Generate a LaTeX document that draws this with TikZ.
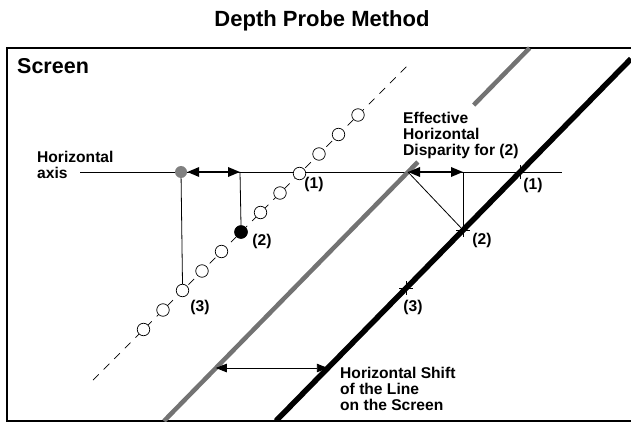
\documentclass[tikz,border=0pt]{standalone}
\usepackage{fontspec}
\setmainfont{Liberation Sans}
\usetikzlibrary{arrows.meta}
\begin{document}
\begin{tikzpicture}[x=1pt,y=-1pt,
  lbl/.style={font=\fontsize{15.6}{16}\selectfont\bfseries, inner sep=0pt, align=left},
  thinl/.style={line width=0.8pt},
  dbl/.style={line width=1.8pt, {Triangle[length=12pt,width=9.5pt]}-{Triangle[length=12pt,width=9.5pt]}},
  dblthin/.style={line width=0.9pt, {Triangle[length=11pt,width=8.5pt]}-{Triangle[length=11pt,width=8.5pt]}},
  probe/.style={circle, draw, line width=0.7pt, fill=white, minimum size=12.5pt, inner sep=0pt},
  tick/.style={line width=0.8pt},
  grayline/.style={line width=4.5pt, draw=black!55},
  blackline/.style={line width=5.5pt}
]
\useasboundingbox (0,0) rectangle (631,422);

% title and frame
\node[font=\fontsize{22}{26}\selectfont\bfseries, anchor=base] (title) at (322,26.5) {Depth Probe Method};
\draw[line width=1.5pt] (631,48) -- (7,48) -- (7,421) -- (631,421);
\node[font=\fontsize{21.5}{24}\selectfont\bfseries, anchor=base west, inner sep=0pt] (screen) at (17,73.5) {Screen};

% key coordinates
\coordinate (axL) at (80,172);
\coordinate (axR) at (562,172);
\coordinate (a2) at (240,172);
\coordinate (gX) at (408,172);
\coordinate (gB) at (164,421);
\coordinate (gA) at (417.8,162);
\coordinate (gC) at (473.7,105);
\coordinate (gD) at (529.6,48);
\coordinate (bB) at (275.9,421);
\coordinate (bT) at (631,58.8);
\coordinate (b1) at (520,172);
\coordinate (b2) at (463,230);
\coordinate (b3) at (406.3,288);
\coordinate (e2) at (463,172);
\coordinate (hsL) at (215.8,368);
\coordinate (hsR) at (327.8,368);
\coordinate (dA) at (93,380);
\coordinate (dB) at (410,63);

% horizontal axis
\draw[thinl] (axL) -- (axR);
\node[lbl, anchor=north west] (haxis) at (37,150.5) {Horizontal\\axis};

% gray line (interrupted by text)
\draw[grayline] (gB) -- (gA);
\draw[grayline] (gC) -- (gD);

% black line
\draw[blackline] (bB) -- (bT);

% dashed probe line
\draw[line width=0.7pt, dash pattern=on 8pt off 7pt] (dA) -- (dB);

% probe circles
\foreach \i in {0,...,11} {
  \pgfmathsetmacro\cx{143.5+19.5*\i}
  \pgfmathsetmacro\cy{473-\cx}
  \node[probe] (c\i) at (\cx,\cy) {};
}
\node[circle, fill=black, minimum size=13.5pt, inner sep=0pt] (bdot) at (241,232) {};
\node[circle, fill=black!50, minimum size=12pt, inner sep=0pt] (gdot) at (181,172) {};

% vertical drop lines
\draw[thinl] (gdot) -- (c2.north);
\draw[thinl] (a2) -- (bdot.north);

% disparity arrow on the axis
\draw[dbl] (gdot.east) -- (a2);

% effective disparity
\draw[dbl] (gX) -- (e2);
\draw[thinl] (e2) -- (b2);
\draw[thinl] (gX) -- (b2);

% ticks on black line
\foreach \p in {b1,b2,b3} {
  \draw[tick] ([xshift=-7pt]\p) -- ([xshift=7pt]\p);
  \draw[tick] ([yshift=-7pt]\p) -- ([yshift=7pt]\p);
}

% horizontal shift arrow
\draw[dblthin] (hsL) -- (hsR);

% labels
\node[lbl, anchor=center] (l1) at (314,184) {(1)};
\node[lbl, anchor=center] (l2) at (262,241) {(2)};
\node[lbl, anchor=center] (l3) at (200,307) {(3)};
\node[lbl, anchor=center] (r1) at (533,185) {(1)};
\node[lbl, anchor=center] (r2) at (482,240) {(2)};
\node[lbl, anchor=center] (r3) at (413,307) {(3)};
\node[lbl, anchor=north west] (eff) at (403,111.5) {Effective\\Horizontal\\Disparity for (2)};
\node[lbl, anchor=north west] (hshift) at (340,366.5) {Horizontal Shift\\of the Line\\on the Screen};
\end{tikzpicture}
\end{document}
